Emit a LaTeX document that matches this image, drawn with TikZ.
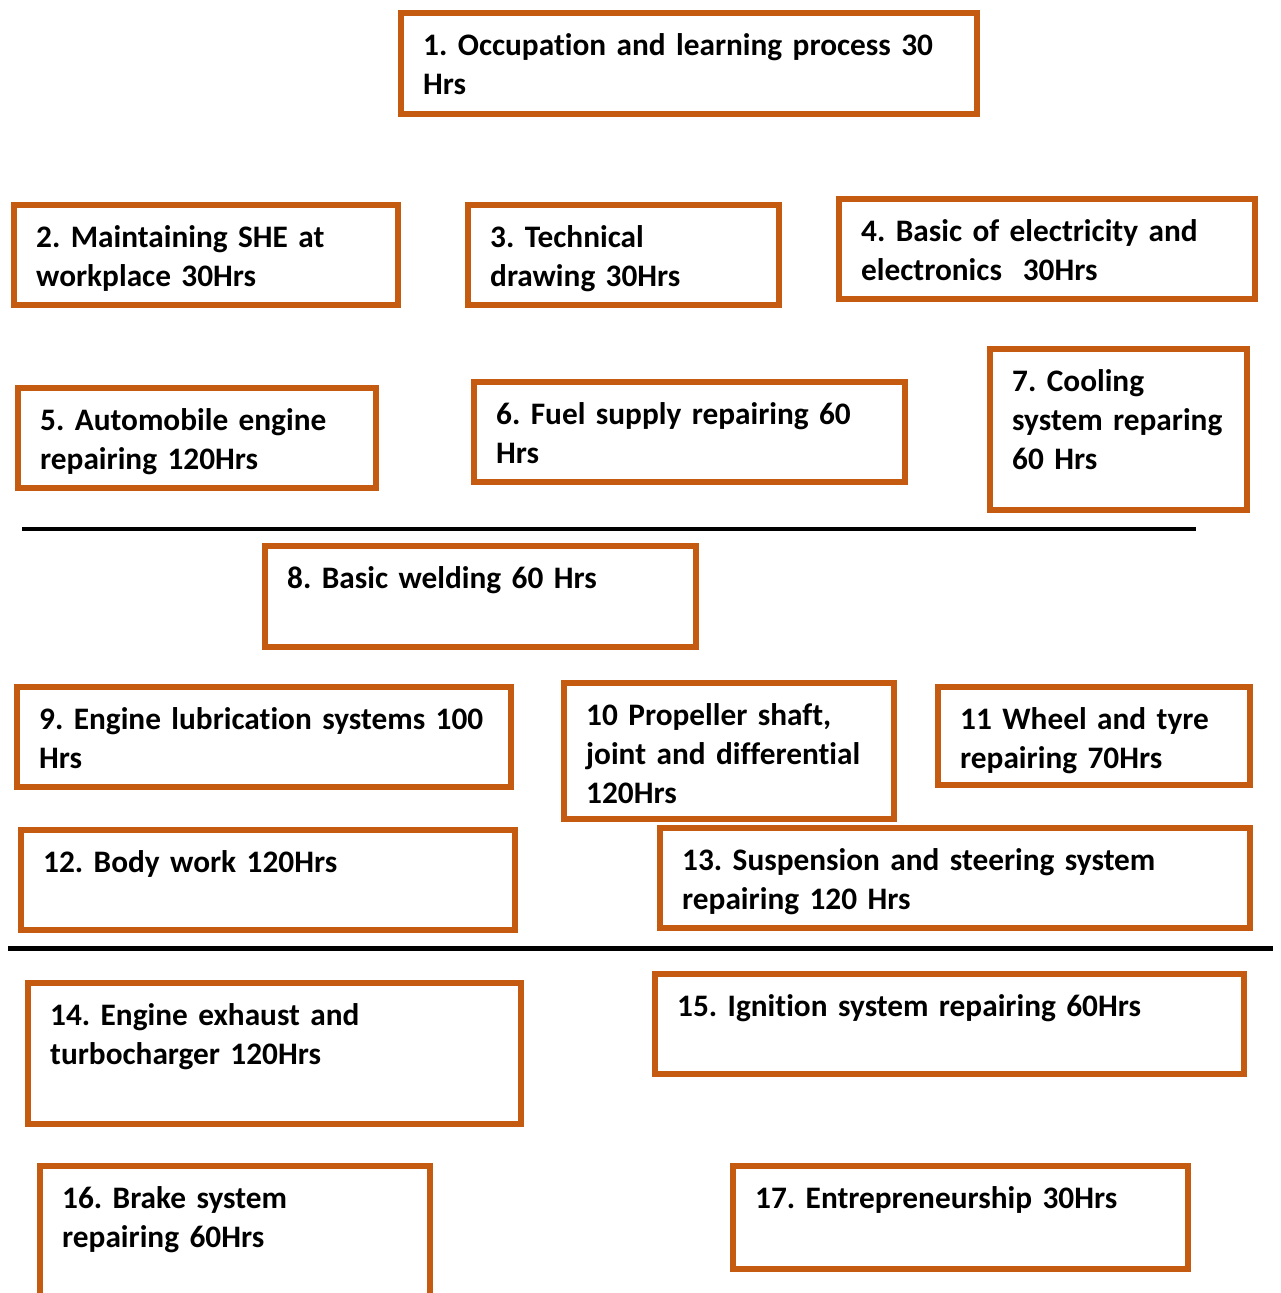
\documentclass[tikz,border=0pt]{standalone}
\usepackage{fontspec}
\setmainfont{Carlito}[Ligatures=NoCommon, WordSpace=0.9]
\frenchspacing
\definecolor{boxorange}{HTML}{C55A11}
\tikzset{
  box/.style={draw=boxorange, line width=5.5pt, rectangle, inner sep=0pt},
  lbl/.style={anchor=base west, inner sep=0pt, align=left, text width=700pt,
    font=\bfseries\fontsize{31.3}{39}\selectfont},
  rule/.style={draw=black, line width=4pt}
}
\newcommand{\mybox}[6]{% name, left, top, right, bottom, text
  \node[box, minimum width={#4-#2}, minimum height={#5-#3}] (#1) at ({(#2+#4)/2},{(#3+#5)/2}) {};
  \node[lbl] (#1t) at ({#2+22},{#3+42}) {#6};
}
\begin{document}
\begin{tikzpicture}[x=1pt,y=-1pt]
\useasboundingbox (0,0) rectangle (1280,1293);
\clip (0,0) rectangle (1280,1293);
\mybox{b1}{401}{13}{977}{114}{1. Occupation and learning process 30\\Hrs}
\mybox{b2}{14}{205}{398}{305}{2. Maintaining SHE at\\workplace 30Hrs}
\mybox{b3}{468}{205}{779}{305}{3. Technical\\drawing 30Hrs}
\mybox{b4}{839}{199}{1255}{299}{4. Basic of electricity and\\electronics\ \ 30Hrs}
\mybox{b5}{18}{388}{376}{488}{5. Automobile engine\\repairing 120Hrs}
\mybox{b6}{474}{382}{905}{482}{6. Fuel supply repairing 60\\Hrs}
\mybox{b7}{990}{349}{1247}{510}{7. Cooling\\system reparing\\60 Hrs}
\coordinate (l1a) at (22,529);
\coordinate (l1b) at (1196,529);
\draw[rule, line width=3.5pt] (l1a) -- (l1b);
\mybox{b8}{265}{546}{696}{647}{8. Basic welding 60 Hrs}
\mybox{b9}{17}{687}{511}{787}{9. Engine lubrication systems 100\\Hrs}
\mybox{b10}{564}{683}{894}{819}{10 Propeller shaft,\\joint and differential\\120Hrs}
\mybox{b11}{938}{687}{1250}{785}{11 Wheel and tyre\\repairing 70Hrs}
\mybox{b12}{21}{830}{515}{930}{12. Body work 120Hrs}
\mybox{b13}{660}{828}{1250}{928}{13. Suspension and steering system\\repairing 120 Hrs}
\coordinate (l2a) at (8,948);
\coordinate (l2b) at (1273,948);
\draw[rule, line width=5pt] (l2a) -- (l2b);
\mybox{b14}{28}{983}{521}{1124}{14. Engine exhaust and\\turbocharger 120Hrs}
\mybox{b15}{655}{974}{1244}{1074}{15. Ignition system repairing 60Hrs}
\mybox{b16}{40}{1166}{430}{1320}{16. Brake system\\repairing 60Hrs}
\mybox{b17}{733}{1166}{1188}{1269}{17. Entrepreneurship 30Hrs}
\end{tikzpicture}
\end{document}
